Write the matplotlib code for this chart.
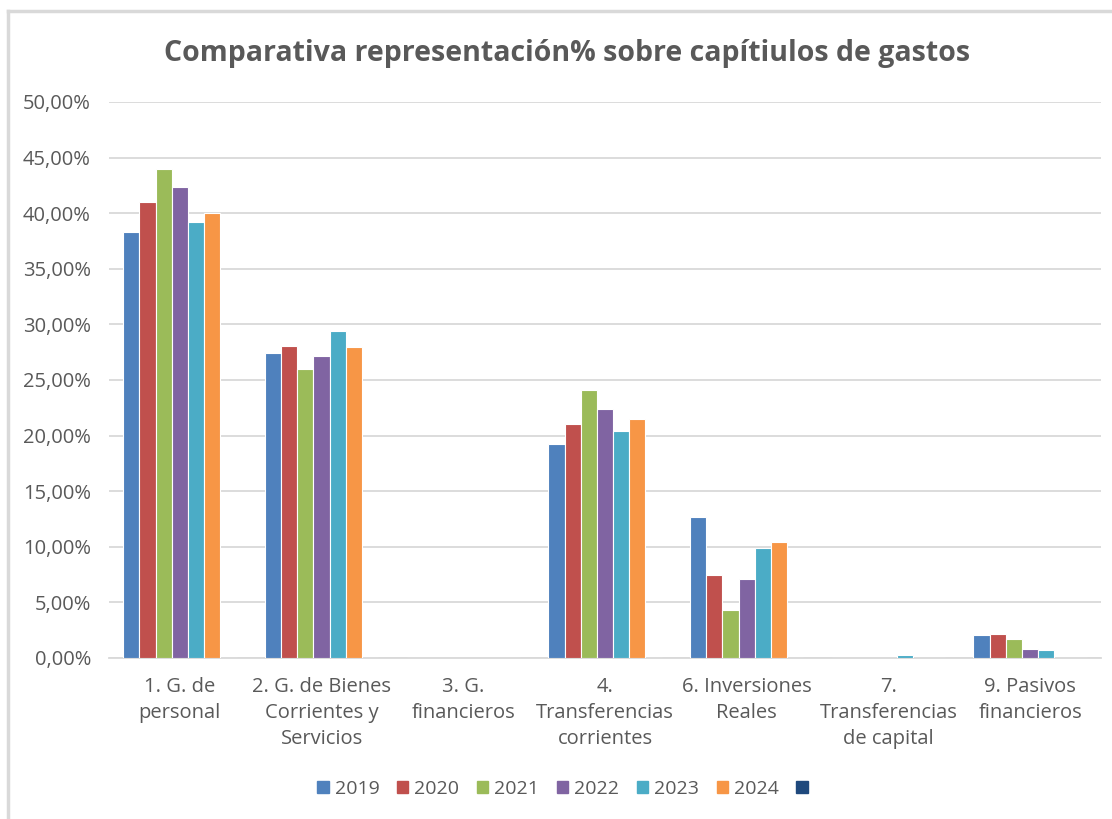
import matplotlib
matplotlib.use("Agg")
import matplotlib.pyplot as plt
from matplotlib.lines import Line2D
from matplotlib.ticker import FuncFormatter
import numpy as np

categories = ["1. G. de\npersonal", "2. G. de Bienes\nCorrientes y\nServicios", "3. G.\nfinancieros",
              "4.\nTransferencias\ncorrientes", "6. Inversiones\nReales", "7.\nTransferencias\nde capital",
              "9. Pasivos\nfinancieros"]
series_names = ["2019", "2020", "2021", "2022", "2023", "2024", " "]
v2019 = [38.3, 27.4, 0.0, 19.2, 12.7, 0.0, 2.1]
v2020 = [41.0, 28.1, 0.0, 21.0, 7.5, 0.0, 2.2]
v2021 = [44.0, 26.0, 0.0, 24.1, 4.3, 0.0, 1.7]
v2022 = [42.4, 27.2, 0.0, 22.4, 7.1, 0.0, 0.8]
v2023 = [39.2, 29.4, 0.0, 20.4, 9.9, 0.3, 0.7]
v2024 = [40.0, 28.0, 0.0, 21.5, 10.4, 0.0, 0.0]
v_blank = [0.0, 0.0, 0.0, 0.0, 0.0, 0.0, 0.0]
series_values = [v2019, v2020, v2021, v2022, v2023, v2024, v_blank]
colors = ["#4F81BD", "#C0504D", "#9BBB59", "#8064A2", "#4BACC6", "#F79646", "#1F497D"]
yticks = np.arange(0, 51, 5)

plt.rcParams['font.family'] = ['Open Sans', 'DejaVu Sans']

fig = plt.figure(figsize=(11.12, 8.19), dpi=100)
ax = fig.add_axes([109/1112, 1 - 658/819, (1101 - 109)/1112, (658 - 102)/819])

x = np.arange(len(categories))
n = len(series_values)
w = 0.8 / n
for i, (name, vals, c) in enumerate(zip(series_names, series_values, colors)):
    ax.bar(x + (i - (n - 1) / 2) * w, vals, width=w, color=c, edgecolor="white",
           linewidth=0.8, label=name, zorder=3)

ax.set_xlim(-0.5, len(categories) - 0.5)
ax.set_ylim(0, 50)
ax.set_yticks(yticks)
ax.yaxis.set_major_formatter(FuncFormatter(lambda v, p: f"{v:.2f}".replace(".", ",") + "%"))
ax.grid(axis="y", color="#D9D9D9", linewidth=1.3, zorder=0)
ax.set_axisbelow(True)
for s in ["left", "right", "top"]:
    ax.spines[s].set_visible(False)
ax.spines["bottom"].set_color("#D9D9D9")
ax.spines["bottom"].set_linewidth(1.3)
ax.set_xticks(x)
ax.set_xticklabels(categories, fontsize=14.5, color="#595959", linespacing=1.4, va="top")
ax.tick_params(axis="x", length=0, pad=14)
ax.tick_params(axis="y", length=0, pad=13, labelsize=14.5, labelcolor="#595959")

fig.text(567/1112, 1 - 53/819, "Comparativa representación% sobre capítiulos de gastos",
         ha="center", va="center", fontsize=20.5, fontweight="bold", color="#595959")

handles = [plt.Rectangle((0, 0), 1, 1, color=c) for c in colors]
fig.legend(handles, series_names, loc="center", bbox_to_anchor=(568/1112, 1 - 789/819),
           ncol=7, frameon=False, fontsize=14, labelcolor="#595959",
           handlelength=0.6, handleheight=0.6, handletextpad=0.3, columnspacing=0.9)

fig.add_artist(Line2D([8/1112, 1], [1 - 11/819, 1 - 11/819], color="#D9D9D9", linewidth=2.5,
                      transform=fig.transFigure))
fig.add_artist(Line2D([8/1112, 8/1112], [0, 1 - 11/819], color="#D9D9D9", linewidth=2.5,
                      transform=fig.transFigure))

fig.savefig("out.png", dpi=100)
